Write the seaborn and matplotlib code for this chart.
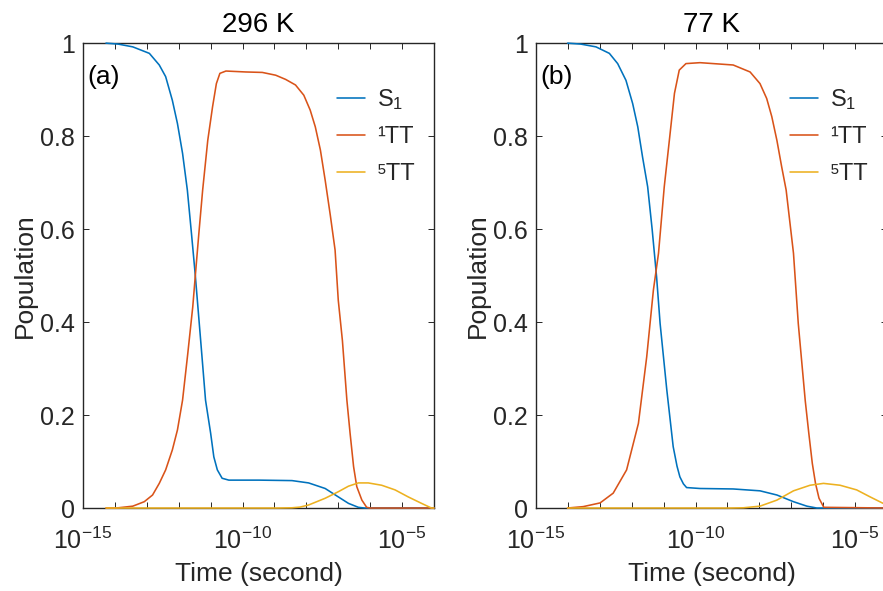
import numpy as np
import pandas as pd
import matplotlib
matplotlib.use("Agg")
import matplotlib.pyplot as plt
import seaborn as sns
from matplotlib.ticker import FixedLocator, FuncFormatter, NullLocator

# ---------------- data (log10 of time in seconds, population) ----------------
# Panel (a): 296 K
a_s1_logt = [-14.28, -13.9, -13.44, -12.92, -12.61, -12.41, -12.2, -12.04, -11.88, -11.73,
             -11.6, -11.48, -11.3, -11.16, -11.0, -10.9, -10.79, -10.64, -10.43, -9.48,
             -8.45, -7.93, -7.41, -7.0, -6.68, -6.37, -6.17, -4.0]
a_s1 = [1.0, 0.998, 0.992, 0.978, 0.953, 0.928, 0.877, 0.827, 0.763, 0.684,
        0.59, 0.50, 0.35, 0.232, 0.161, 0.11, 0.082, 0.064, 0.060, 0.060,
        0.059, 0.054, 0.042, 0.024, 0.010, 0.0015, 0.0, 0.0]

a_tt1_logt = [-14.28, -13.96, -13.44, -13.08, -12.82, -12.61, -12.41, -12.2, -12.04, -11.88,
              -11.72, -11.56, -11.48, -11.37, -11.25, -11.09, -10.94, -10.82, -10.71, -10.52,
              -9.9, -9.38, -8.96, -8.65, -8.34, -8.08, -7.88, -7.72, -7.56, -7.41,
              -7.25, -7.10, -7.0, -6.87, -6.73, -6.63, -6.52, -6.42, -6.26, -6.11,
              -6.0, -4.0]
a_tt1 = [0.0, 0.0, 0.004, 0.0136, 0.028, 0.053, 0.082, 0.125, 0.168, 0.232,
         0.33, 0.433, 0.50, 0.59, 0.684, 0.791, 0.863, 0.913, 0.935, 0.94,
         0.938, 0.937, 0.931, 0.922, 0.910, 0.888, 0.856, 0.82, 0.77, 0.705,
         0.63, 0.555, 0.447, 0.36, 0.232, 0.161, 0.089, 0.046, 0.017, 0.0015,
         0.0, 0.0]

a_tt5_logt = [-14.28, -8.9, -8.45, -8.2, -7.93, -7.41, -7.0, -6.68, -6.37, -6.06,
              -5.64, -5.22, -4.81, -4.39, -4.08, -4.0]
a_tt5 = [0.0, 0.0, 0.0005, 0.002, 0.0065, 0.021, 0.035, 0.047, 0.054, 0.054,
         0.049, 0.039, 0.024, 0.010, 0.0, 0.0]

# Panel (b): 77 K
b_s1_logt = [-14.01, -13.6, -13.12, -12.7, -12.44, -12.18, -11.97, -11.81, -11.66, -11.5,
             -11.36, -11.22, -11.11, -10.9, -10.7, -10.58, -10.49, -10.38, -10.28, -9.86,
             -8.82, -7.98, -7.45, -6.93, -6.51, -6.2, -4.0]
b_s1 = [1.0, 0.998, 0.992, 0.978, 0.956, 0.92, 0.87, 0.82, 0.755, 0.691,
        0.60, 0.497, 0.397, 0.254, 0.132, 0.09, 0.067, 0.052, 0.044, 0.042,
        0.041, 0.037, 0.028, 0.0136, 0.004, 0.0, 0.0]

b_tt1_logt = [-14.01, -13.52, -12.99, -12.58, -12.16, -11.79, -11.53, -11.32, -11.16, -10.98,
              -10.82, -10.66, -10.51, -10.3, -9.86, -8.82, -8.29, -7.98, -7.77, -7.61,
              -7.45, -7.3, -7.16, -6.93, -6.78, -6.56, -6.45, -6.34, -6.24, -6.13,
              -5.98, -4.0]
b_tt1 = [0.0, 0.003, 0.011, 0.032, 0.082, 0.182, 0.325, 0.469, 0.548, 0.691,
         0.791, 0.892, 0.942, 0.956, 0.958, 0.953, 0.938, 0.913, 0.881, 0.842,
         0.791, 0.734, 0.684, 0.548, 0.397, 0.23, 0.161, 0.096, 0.053, 0.021,
         0.0015, 0.0]

b_tt5_logt = [-14.01, -8.9, -8.5, -7.98, -7.45, -6.93, -6.41, -5.99, -5.47, -4.95,
              -4.53, -4.12, -4.0]
b_tt5 = [0.0, 0.0, 0.0005, 0.004, 0.017, 0.037, 0.049, 0.053, 0.049, 0.039,
         0.024, 0.010, 0.006]

series_labels = [r"$\mathregular{S_1}$", "\u00b9TT", "\u2075TT"]
panel_titles = ["296 K", "77 K"]
panel_tags = ["(a)", "(b)"]
ytick_vals = [0, 0.2, 0.4, 0.6, 0.8, 1.0]
xtick_exps = list(range(-15, -3))
xlabel_exps = [-15, -10, -5]
colors = ["#0072BD", "#D95319", "#EDB120"]

# ---------------- style ----------------
sns.set_style("ticks")
plt.rcParams["font.family"] = ["Liberation Sans", "DejaVu Sans"]
plt.rcParams["mathtext.default"] = "regular"
plt.rcParams["mathtext.fontset"] = "custom"
plt.rcParams["mathtext.rm"] = "Liberation Sans"
plt.rcParams["mathtext.it"] = "Liberation Sans"

fig = plt.figure(figsize=(8.83, 5.91), dpi=100)
ax_a = fig.add_axes([0.094, 0.1404, 0.3975, 0.7866])
ax_b = fig.add_axes([0.607, 0.1404, 0.3975, 0.7866])

panels = [
    (ax_a, [(a_s1_logt, a_s1), (a_tt1_logt, a_tt1), (a_tt5_logt, a_tt5)]),
    (ax_b, [(b_s1_logt, b_s1), (b_tt1_logt, b_tt1), (b_tt5_logt, b_tt5)]),
]

axis_color = "#262626"

for i, (ax, ser) in enumerate(panels):
    for (lt, v), lab, c in zip(ser, series_labels, colors):
        df = pd.DataFrame({"t": 10.0 ** np.asarray(lt), "p": v})
        sns.lineplot(data=df, x="t", y="p", ax=ax, color=c, lw=1.15,
                     label=lab, sort=False, estimator=None, clip_on=False, zorder=3)
    ax.set_xscale("log")
    ax.set_xlim(1e-15, 1e-4)
    ax.set_ylim(0, 1)
    ax.xaxis.set_major_locator(FixedLocator([10.0 ** e for e in xtick_exps]))
    ax.xaxis.set_minor_locator(NullLocator())
    ax.xaxis.set_major_formatter(FuncFormatter(
        lambda x, pos: (r"$\mathregular{10^{%d}}$" % round(np.log10(x)))
        if round(np.log10(x)) in xlabel_exps else ""))
    ax.yaxis.set_major_locator(FixedLocator(ytick_vals))
    ax.yaxis.set_major_formatter(FuncFormatter(lambda y, pos: f"{y:g}"))
    ax.tick_params(direction="in", top=True, right=True, length=4, width=0.7,
                   colors=axis_color, labelsize=18, pad=6)
    ax.tick_params(axis="x", pad=14)
    for sp in ax.spines.values():
        sp.set_linewidth(1.0)
        sp.set_color(axis_color)
    ax.set_xlabel("Time (second)", fontsize=19, color=axis_color, labelpad=6)
    ax.set_ylabel("Population", fontsize=19, color=axis_color, labelpad=2)
    ax.set_title(panel_titles[i], fontsize=20, color="black", pad=8)
    ax.text(0.012, 0.927, panel_tags[i], transform=ax.transAxes, fontsize=19,
            ha="left", va="center", color="black")
    leg = ax.legend(loc="upper left", bbox_to_anchor=(0.724, 0.906), frameon=False,
                    fontsize=17, handlelength=1.19, handletextpad=0.5,
                    labelspacing=0.62, borderpad=0, borderaxespad=0)
    for t in leg.get_texts():
        t.set_color(axis_color)

fig.savefig("out.png", dpi=100, facecolor="white")
